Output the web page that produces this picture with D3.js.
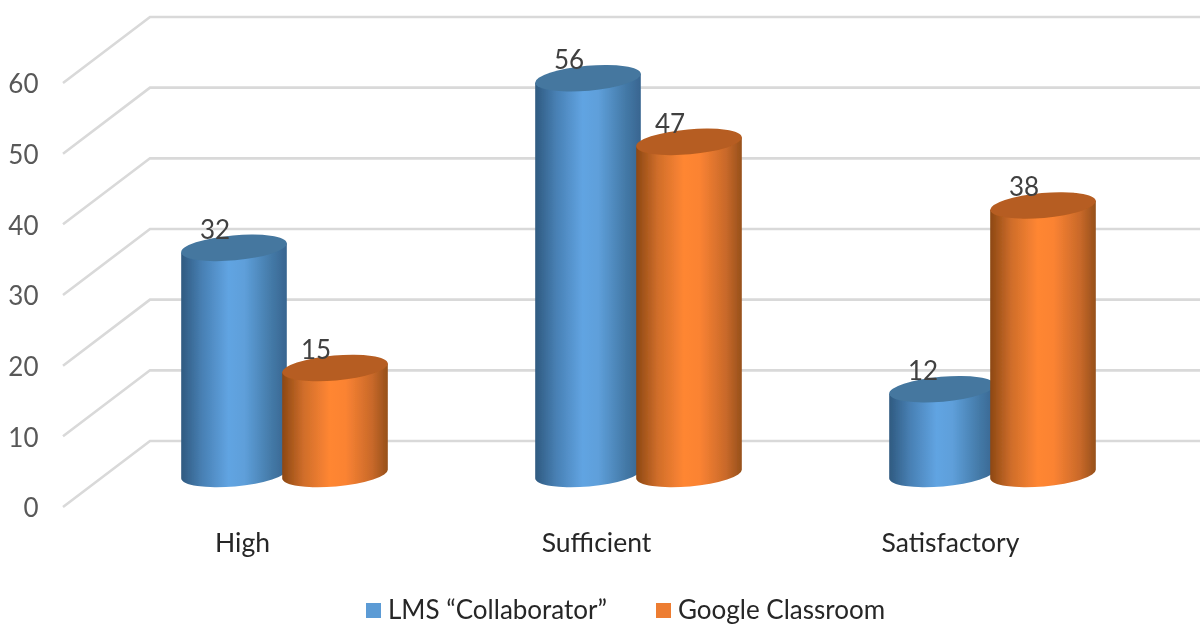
<!DOCTYPE html>
<html><head><meta charset="utf-8">
<script src="https://cdn.jsdelivr.net/npm/d3@7"></script>
<style>html,body{margin:0;padding:0;background:#fff}svg{display:block}text{font-family:Lato,"Open Sans",sans-serif}</style>
</head><body><div id="c"></div>
<script>
const categories = ["High", "Sufficient", "Satisfactory"];
const seriesNames = ["LMS “Collaborator”", "Google Classroom"];
const lmsValues = [32, 56, 12];
const googleValues = [15, 47, 38];
const seriesValues = [lmsValues, googleValues];
const yTicks = [0, 10, 20, 30, 40, 50, 60];

const W = 1200, H = 625;
const svg = d3.select("#c").append("svg").attr("width", W).attr("height", H);
const defs = svg.append("defs");
const soft = defs.append("filter").attr("id","soft").attr("x","-5%").attr("y","-5%").attr("width","110%").attr("height","110%");
soft.append("feGaussianBlur").attr("stdDeviation",0.5);

const palette = [
  {id:"gb", stops:["#2f5a80","#4880b4","#61a4e2","#5e9fda","#447aa8","#386590"], top:"#44779f", sw:"#5b9bd5"},
  {id:"go", stops:["#8c4813","#cf6d2a","#ff8633","#fb8332","#c9692a","#96501b"], top:"#b65d20", sw:"#ed7d31"}
];
const offs = [0,0.2,0.45,0.6,0.85,1];
palette.forEach(p=>{
  const g = defs.append("linearGradient").attr("id",p.id).attr("x1","0").attr("x2","1").attr("y1","0").attr("y2","0");
  p.stops.forEach((c,i)=>g.append("stop").attr("offset",offs[i]).attr("stop-color",c));
});

// scales: front plane of the 3D box
const y = d3.scaleLinear().domain([0,60]).range([507,83]);
const x = d3.scaleBand().domain(categories).range([107.5,1169.5]);
const dx = 87, dy = -66;          // depth of the chart box
const cylBaseOffset = -33;        // cylinders stand mid-depth
const rx = 53, ry = 12.5, tilt = -5;

const root = svg.append("g").attr("filter","url(#soft)");

// gridlines
const grid = root.append("g");
yTicks.forEach(t=>{
  const p = d3.path();
  p.moveTo(63, y(t)); p.lineTo(63+dx, y(t)+dy); p.lineTo(W, y(t)+dy);
  grid.append("path").attr("d",p.toString()).attr("fill","none").attr("stroke","#d9d9d9").attr("stroke-width",2.6);
});

// y axis
const axis = root.append("g").attr("transform","translate(38.5,1)")
  .call(d3.axisLeft(y).tickValues(yTicks).tickSize(0).tickPadding(0));
axis.select(".domain").remove();
axis.selectAll("text").attr("font-size",26).attr("fill","#595959").style("font-family","Lato,sans-serif").attr("dy","0.34em");

// cylinders
const rad = tilt*Math.PI/180, c = Math.cos(rad), s = Math.sin(rad);
categories.forEach((cat,i)=>{
  [0,1].forEach(k=>{
    const v = seriesValues[k][i];
    const cx = x(cat)+x.bandwidth()/2 + (k===0?-50.5:50.5);
    const yb = y(0)+cylBaseOffset;
    const yt = y(v)+cylBaseOffset;
    const lx = cx-rx*c, ly = -rx*s, rxp = cx+rx*c, ry2 = rx*s;
    const g = root.append("g");
    g.append("path")
      .attr("d",`M${lx},${yt+ly} L${lx},${yb+ly} A${rx},${ry} ${tilt} 0 0 ${rxp},${yb+ry2} L${rxp},${yt+ry2} Z`)
      .attr("fill",`url(#${palette[k].id})`);
    g.append("ellipse").attr("cx",0).attr("cy",0).attr("rx",rx).attr("ry",ry)
      .attr("transform",`translate(${cx},${yt}) rotate(${tilt})`)
      .attr("fill",palette[k].top);
    g.append("text").attr("x",cx-19).attr("y",yt-9).attr("text-anchor","middle")
      .attr("font-size",26).attr("fill","#404040").text(v);
  });
});

// category labels
categories.forEach(cat=>{
  root.append("text").attr("x",x(cat)+x.bandwidth()/2-42).attr("y",552).attr("text-anchor","middle")
    .attr("font-size",26.5).attr("fill","#262626").text(cat);
});

// legend
const legendX = [366,656];
seriesNames.forEach((n,k)=>{
  root.append("rect").attr("x",legendX[k]).attr("y",603).attr("width",15).attr("height",15).attr("fill",palette[k].sw);
  root.append("text").attr("x",legendX[k]+22).attr("y",618.5).attr("font-size",26).attr("fill","#262626").text(n);
});
</script></body></html>
